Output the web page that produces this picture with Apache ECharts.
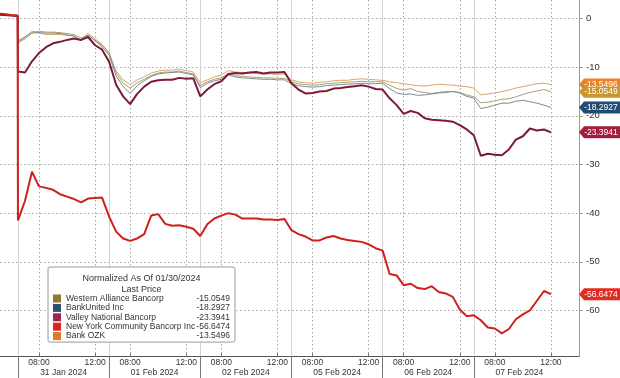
<!DOCTYPE html>
<html>
<head>
<meta charset="utf-8">
<script src="https://cdn.jsdelivr.net/npm/echarts@6/dist/echarts.min.js"></script>
<style>
  html, body { margin: 0; padding: 0; background: #fff; }
  #chart { width: 620px; height: 378px; }
</style>
</head>
<body>
<div id="chart"></div>
<script>
// trading days shown on the axis (each day 06:30 - 13:00)
const dayLabels = ['31 Jan 2024', '01 Feb 2024', '02 Feb 2024', '05 Feb 2024', '06 Feb 2024', '07 Feb 2024']
const timeTickHours = [8, 12]
const yTicks = [0, -10, -20, -30, -40, -50, -60]
// last bit of 30 Jan, then half-hour samples per day
const preHours = [11.5, 12.0, 12.5, 12.98]
const sampleHours = [6.5, 7, 7.5, 8, 8.5, 9, 9.5, 10, 10.5, 11, 11.5, 12, 12.5]
const lastDayCount = 12

const ozkVals = [
  0.8, 0.7, 0.6, 0.5,
  -4.5, -3.7, -3.0, -3.0, -3.3, -3.3, -3.3, -3.4, -3.6, -4.4, -3.0, -4.2, -5.3,
  -7.2, -10.8, -12.6, -13.6, -12.6, -12.0, -11.2, -10.8, -10.6, -10.6, -10.4, -10.7, -11.0,
  -13.2, -12.6, -12.0, -11.6, -10.7, -11.0, -11.1, -11.2, -11.3, -11.4, -11.4, -11.5, -11.4,
  -12.6, -13.0, -13.2, -13.3, -13.1, -13.0, -12.8, -12.7, -12.7, -12.5, -12.4, -12.5, -12.6,
  -12.7, -13.0, -13.2, -13.4, -13.6, -13.8, -13.9, -13.7, -13.5, -13.6, -13.7, -13.9, -14.0,
  -14.3, -15.7, -15.5, -15.3, -15.0, -14.7, -14.3, -14.0, -13.7, -13.4, -13.3, -13.5496
]
const walVals = [
  0.8, 0.7, 0.6, 0.5,
  -5.0, -4.2, -3.0, -2.6, -2.8, -2.8, -2.9, -3.1, -3.3, -4.0, -3.4, -4.5, -5.5,
  -7.0, -11.2, -13.3, -14.3, -13.2, -12.5, -11.7, -11.2, -11.0, -11.0, -10.8, -11.1, -11.4,
  -13.8, -13.0, -12.5, -12.2, -11.3, -11.7, -11.9, -12.0, -12.1, -12.2, -12.2, -12.3, -12.3,
  -13.0, -13.4, -13.6, -13.7, -13.6, -13.4, -13.3, -13.2, -13.1, -13.0, -12.9, -13.0, -13.0,
  -13.0, -13.7, -14.4, -14.7, -14.4, -15.0, -15.2, -15.4, -15.2, -15.0, -15.0, -15.2, -15.7,
  -16.1, -17.3, -17.2, -16.9, -16.6, -16.5, -16.1, -15.6, -15.2, -14.9, -14.6, -15.0549
]
const bkuVals = [
  0.8, 0.7, 0.6, 0.5,
  -4.8, -3.9, -2.7, -2.9, -3.0, -3.0, -3.1, -3.4, -3.6, -4.6, -3.4, -4.6, -5.8,
  -7.5, -11.8, -14.0, -15.4, -13.8, -12.8, -11.9, -11.4, -11.2, -11.1, -11.0, -11.3, -11.6,
  -14.2, -13.3, -12.8, -12.5, -11.6, -12.0, -12.2, -12.3, -12.4, -12.5, -12.5, -12.6, -12.6,
  -13.4, -13.8, -14.0, -14.1, -14.0, -13.8, -13.7, -13.6, -13.5, -13.4, -13.3, -13.4, -13.4,
  -13.3, -14.4, -15.3, -15.6, -15.5, -15.8, -15.7, -15.5, -15.3, -15.2, -15.0, -15.3, -16.0,
  -16.4, -18.5, -18.2, -17.8, -17.4, -17.4, -17.0, -16.8, -17.1, -17.4, -17.8, -18.2927
]
const vlyVals = [
  0.8, 0.7, 0.6, 0.5,
  -10.9, -11.1, -8.8, -7.1, -5.9, -5.1, -4.8, -4.4, -4.1, -4.4, -3.8, -5.5, -6.4,
  -8.9, -13.6, -16.0, -17.6, -15.5, -14.0, -13.0, -12.7, -12.6, -12.6, -12.2, -12.4, -12.3,
  -16.0, -14.6, -13.5, -12.9, -11.4, -11.2, -11.3, -11.1, -11.0, -11.3, -11.1, -11.1, -11.0,
  -13.3, -14.6, -15.4, -15.3, -15.0, -14.9, -14.4, -14.3, -14.1, -13.9, -13.7, -14.0, -14.5,
  -14.6, -16.4, -17.8, -19.6, -19.0, -19.4, -20.5, -20.8, -20.9, -21.0, -21.2, -21.9, -22.8,
  -24.0, -28.2, -27.8, -28.0, -28.1, -26.9, -24.9, -24.2, -22.6, -23.0, -22.8, -23.3941
]
const nycbVals = [
  1.0, 0.9, 0.7, 0.6,
  -41.5, -37.5, -31.5, -34.5, -34.8, -35.2, -36.1, -36.6, -37.1, -37.8, -37.0, -36.9, -36.8,
  -40.7, -43.8, -45.2, -45.7, -45.2, -44.3, -40.5, -40.2, -42.2, -42.6, -42.5, -42.8, -43.2,
  -44.7, -42.3, -41.1, -40.5, -40.0, -40.3, -41.1, -41.1, -41.1, -41.3, -41.3, -41.4, -41.2,
  -43.5, -44.3, -44.8, -45.6, -45.6, -45.0, -44.7, -45.2, -45.5, -45.7, -45.9, -46.4, -47.2,
  -47.7, -52.5, -52.8, -54.8, -54.5, -55.4, -55.6, -55.0, -56.2, -56.5, -57.2, -59.8, -61.2,
  -61.0, -62.0, -63.5, -63.7, -64.7, -63.8, -61.8, -60.8, -60.0, -58.0, -56.0, -56.6474
]

const DAY_LEN = 6.5
const X_MIN = -1.28
const X_MAX = 40.0
const FONT = '"Liberation Sans", "DejaVu Sans", sans-serif'

// hours of trading since 31 Jan 06:30
function toT(day, hour) {
  return day * DAY_LEN + (hour - 6.5)
}

const times = []
preHours.forEach(h => times.push(toT(-1, h)))
dayLabels.forEach((d, i) => {
  const hs = i === dayLabels.length - 1 ? sampleHours.slice(0, lastDayCount) : sampleHours
  hs.forEach(h => times.push(toT(i, h)))
})

const timeTickValues = []
dayLabels.forEach((d, i) => timeTickValues.push(...timeTickHours.map(h => toT(i, h))))
const dayStartValues = dayLabels.map((d, i) => toT(i, 6.5))
const dayMidValues = dayLabels.map((d, i) => toT(i, 9.75))

const TAG = 'path://M0,6 L5,0 L42,0 L42,12 L5,12 Z'

function makeSeries(name, vals, lineColor, width, tagColor) {
  const last = vals[vals.length - 1]
  return {
    name: name,
    type: 'line',
    data: times.map((t, i) => [t, vals[i]]),
    symbol: 'none',
    lineStyle: { color: lineColor, width: width },
    itemStyle: { color: tagColor },
    emphasis: { disabled: true },
    markPoint: {
      symbol: TAG,
      symbolSize: [42, 12],
      symbolKeepAspect: false,
      symbolOffset: ['50%', 0],
      itemStyle: { color: tagColor },
      label: { show: true, color: '#fff', fontSize: 8.5, fontFamily: FONT, offset: [1, 0], formatter: '{c}' },
      data: [{ coord: [X_MAX, last], value: last.toFixed(4) }]
    }
  }
}

const seriesList = [
  makeSeries('Bank OZK', ozkVals, '#dba66a', 1, '#e8832a'),
  makeSeries('Western Alliance Bancorp', walVals, '#a8a070', 1, '#c8952e'),
  makeSeries('BankUnited Inc', bkuVals, '#7f8a93', 1, '#264b70'),
  makeSeries('Valley National Bancorp', vlyVals, '#7d1b36', 2, '#a31d3f'),
  makeSeries('New York Community Bancorp Inc', nycbVals, '#d0201c', 2, '#e42b22')
]

const legendColors = {
  'Western Alliance Bancorp': '#8f7a2c',
  'BankUnited Inc': '#2d5275',
  'Valley National Bancorp': '#a3234a',
  'New York Community Bancorp Inc': '#e0231e',
  'Bank OZK': '#e07a2a'
}
const legendOrder = ['Western Alliance Bancorp', 'BankUnited Inc', 'Valley National Bancorp', 'New York Community Bancorp Inc', 'Bank OZK']
const lastByName = {}
seriesList.forEach(s => { lastByName[s.name] = s.data[s.data.length - 1][1].toFixed(4) })

const dotted = { color: '#a8a8a8', type: [1.5, 2.5], width: 1 }
const chart = echarts.init(document.getElementById('chart'))
chart.setOption({
  animation: false,
  backgroundColor: '#fff',
  textStyle: { fontFamily: FONT },
  grid: { left: 0, right: 41, top: 0, bottom: 22 },
  xAxis: [
    {
      type: 'value', min: X_MIN, max: X_MAX, position: 'bottom',
      axisLine: { show: true, onZero: false, lineStyle: { color: '#555' } },
      axisTick: { show: true, inside: true, length: 3, customValues: timeTickValues, lineStyle: { color: '#777' } },
      axisLabel: {
        customValues: timeTickValues, margin: 2, fontSize: 8.5, color: '#333',
        formatter: v => {
          const h = Math.round(((v % DAY_LEN) + DAY_LEN) % DAY_LEN + 6.5)
          return (h < 10 ? '0' : '') + h + ':00'
        }
      },
      splitLine: { show: true, lineStyle: dotted }
    },
    {
      type: 'value', min: X_MIN, max: X_MAX, position: 'bottom',
      axisLine: { show: false, onZero: false },
      axisTick: { show: true, length: 22, customValues: dayStartValues, lineStyle: { color: '#777' } },
      axisLabel: { show: false },
      splitLine: { show: true, lineStyle: { color: '#d4d4d4', width: 1 } }
    },
    {
      type: 'value', min: X_MIN, max: X_MAX, position: 'bottom',
      axisLine: { show: false, onZero: false },
      axisTick: { show: false, customValues: dayMidValues },
      axisLabel: {
        customValues: dayMidValues, margin: 12, fontSize: 8.5, color: '#333',
        formatter: v => dayLabels[Math.round((v - 3.25) / DAY_LEN)]
      },
      splitLine: { show: false }
    }
  ],
  yAxis: {
    type: 'value', position: 'right', min: -69.35, max: 3.8,
    axisLine: { show: true, onZero: false, lineStyle: { color: '#a39e72' } },
    axisTick: { show: true, length: 4, customValues: yTicks, lineStyle: { color: '#a39e72' } },
    axisLabel: { customValues: yTicks, margin: 7, fontSize: 9.5, color: '#333' },
    splitLine: { show: true, lineStyle: dotted }
  },
  legend: {
    orient: 'vertical', left: 48, top: 267,
    padding: [27, 5, 1.5, 5],
    backgroundColor: '#fff', borderColor: '#9a9a9a', borderWidth: 1, borderRadius: 2,
    itemWidth: 8, itemHeight: 8, itemGap: 0.4, icon: 'rect', selectedMode: false,
    data: legendOrder.map(n => ({ name: n, itemStyle: { color: legendColors[n] } })),
    formatter: n => '{n|' + n + '}{v|' + lastByName[n] + '}',
    textStyle: {
      fontSize: 8.5, color: '#333',
      rich: {
        n: { width: 124, fontSize: 8.5, lineHeight: 10, color: '#333' },
        v: { width: 40, align: 'right', fontSize: 8.5, lineHeight: 10, color: '#333' }
      }
    }
  },
  graphic: [{
    type: 'text', x: 141.5, y: 272.8, z: 100,
    style: {
      text: 'Normalized As Of 01/30/2024\nLast Price',
      textAlign: 'center', textVerticalAlign: 'top',
      fontSize: 9, lineHeight: 11, fill: '#333', fontFamily: FONT
    }
  }],
  series: seriesList
})
</script>
</body>
</html>
